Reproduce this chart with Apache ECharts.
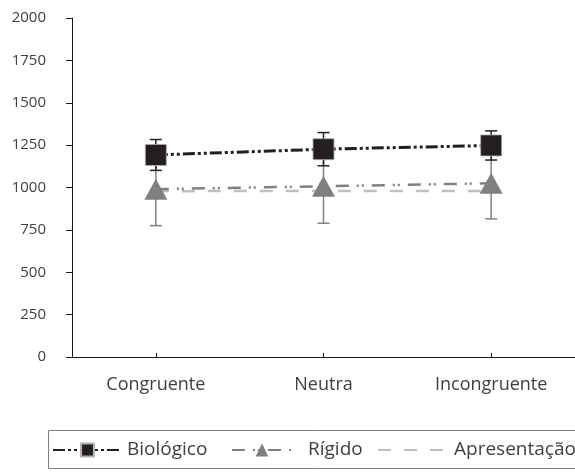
<!DOCTYPE html>
<html>
<head>
<meta charset="utf-8">
<script src="https://cdn.jsdelivr.net/npm/echarts@6/dist/echarts.min.js"></script>
<style>
html,body{margin:0;padding:0;background:#fff;}
#chart{width:575px;height:472px;}
</style>
</head>
<body>
<div id="chart"></div>
<script>
const categories = ['Congruente', 'Neutra', 'Incongruente'];
const yTicks = [0, 250, 500, 750, 1000, 1250, 1500, 1750, 2000];
const biologico = [1192, 1226, 1248];
const biologicoErr = [91, 98, 86];
const rigido = [990, 1007, 1025];
const rigidoErr = [215, 218, 210];
const apresentacao = [978, 980, 980];

const FONT = 'Open Sans';
const TXT = '#404040';

function errSeries(name, vals, errs, color, z) {
  return {
    type: 'custom', name: name, z: z, silent: true, xAxisIndex: 0,
    data: categories.map((c, i) => [i, vals[i] - errs[i], vals[i] + errs[i]]),
    renderItem: function (params, api) {
      const lo = api.coord([api.value(0), api.value(1)]);
      const hi = api.coord([api.value(0), api.value(2)]);
      const hw = 6;
      const style = { stroke: color, lineWidth: 1.5, fill: null };
      return {
        type: 'group', children: [
          { type: 'line', shape: { x1: lo[0], y1: lo[1], x2: hi[0], y2: hi[1] }, style: style },
          { type: 'line', shape: { x1: lo[0] - hw, y1: lo[1], x2: lo[0] + hw, y2: lo[1] }, style: style },
          { type: 'line', shape: { x1: hi[0] - hw, y1: hi[1], x2: hi[0] + hw, y2: hi[1] }, style: style }
        ]
      };
    }
  };
}

const chart = echarts.init(document.getElementById('chart'), null, { renderer: 'canvas' });
const legendText = { fontFamily: FONT, fontSize: 19, color: TXT, lineHeight: 20 };
chart.setOption({
  animation: false,
  backgroundColor: '#fff',
  grid: { left: 72, right: -4, top: 18, bottom: 115, containLabel: false },
  graphic: [{
    type: 'rect', z: 0, silent: true,
    shape: { x: 48.5, y: 430.5, width: 540, height: 38 },
    style: { fill: '#fff', stroke: '#808080', lineWidth: 1 }
  }],
  legend: [
    { data: ['Biológico'], left: 47, top: 435, itemWidth: 69, itemHeight: 16, textStyle: legendText, selectedMode: false },
    { data: ['Rígido'], left: 226, top: 435, itemWidth: 60, itemHeight: 16,
      textStyle: Object.assign({}, legendText, { padding: [0, 0, 0, 11] }), selectedMode: false },
    { data: ['Apresentação'], left: 372, top: 435, itemWidth: 71, itemHeight: 16, textStyle: legendText,
      itemStyle: { opacity: 0 }, selectedMode: false }
  ],
  xAxis: [{
    type: 'category', data: categories, boundaryGap: true,
    axisLine: { lineStyle: { color: '#1a1a1a', width: 1 } },
    axisTick: { inside: true, length: 4, lineStyle: { color: '#1a1a1a' } },
    axisLabel: { fontFamily: FONT, fontSize: 18, color: TXT, margin: 19 },
    splitLine: { show: false }
  }, {
    type: 'category', data: categories, boundaryGap: true, position: 'bottom',
    axisLine: { show: false },
    axisTick: { show: true, inside: true, length: 4, alignWithLabel: true, lineStyle: { color: '#1a1a1a' } },
    axisLabel: { show: false },
    splitLine: { show: false }
  }],
  yAxis: {
    type: 'value', min: yTicks[0], max: yTicks[yTicks.length - 1], interval: 250,
    axisLine: { show: true, lineStyle: { color: '#1a1a1a', width: 1 } },
    axisTick: { show: true, inside: false, length: 6, lineStyle: { color: '#1a1a1a' } },
    axisLabel: { fontFamily: FONT, fontSize: 15, color: TXT, margin: 26, formatter: v => String(v) },
    splitLine: { show: false }
  },
  series: [
    {
      name: 'Apresentação', type: 'line', data: apresentacao, z: 2, symbol: 'none',
      lineStyle: { color: '#bfbfbf', width: 2.5, type: [13, 13] },
      itemStyle: { color: '#bfbfbf' }
    },
    errSeries('rig_err', rigido, rigidoErr, '#808080', 3),
    {
      name: 'Rígido', type: 'line', data: rigido, z: 4, symbol: 'triangle', symbolSize: [23, 21],
      lineStyle: { color: '#808080', width: 2.5, type: [13, 8, 2, 3, 2, 8] },
      itemStyle: { color: '#808080' }
    },
    errSeries('bio_err', biologico, biologicoErr, '#231f20', 5),
    {
      name: 'Biológico', type: 'line', data: biologico, z: 6, symbol: 'rect', symbolSize: 21,
      lineStyle: { color: '#231f20', width: 3, type: [12, 3, 3, 3, 3, 3] },
      itemStyle: { color: '#231f20', borderColor: '#b0b0b0', borderWidth: 0.8 }
    }
  ]
});
</script>
</body>
</html>
